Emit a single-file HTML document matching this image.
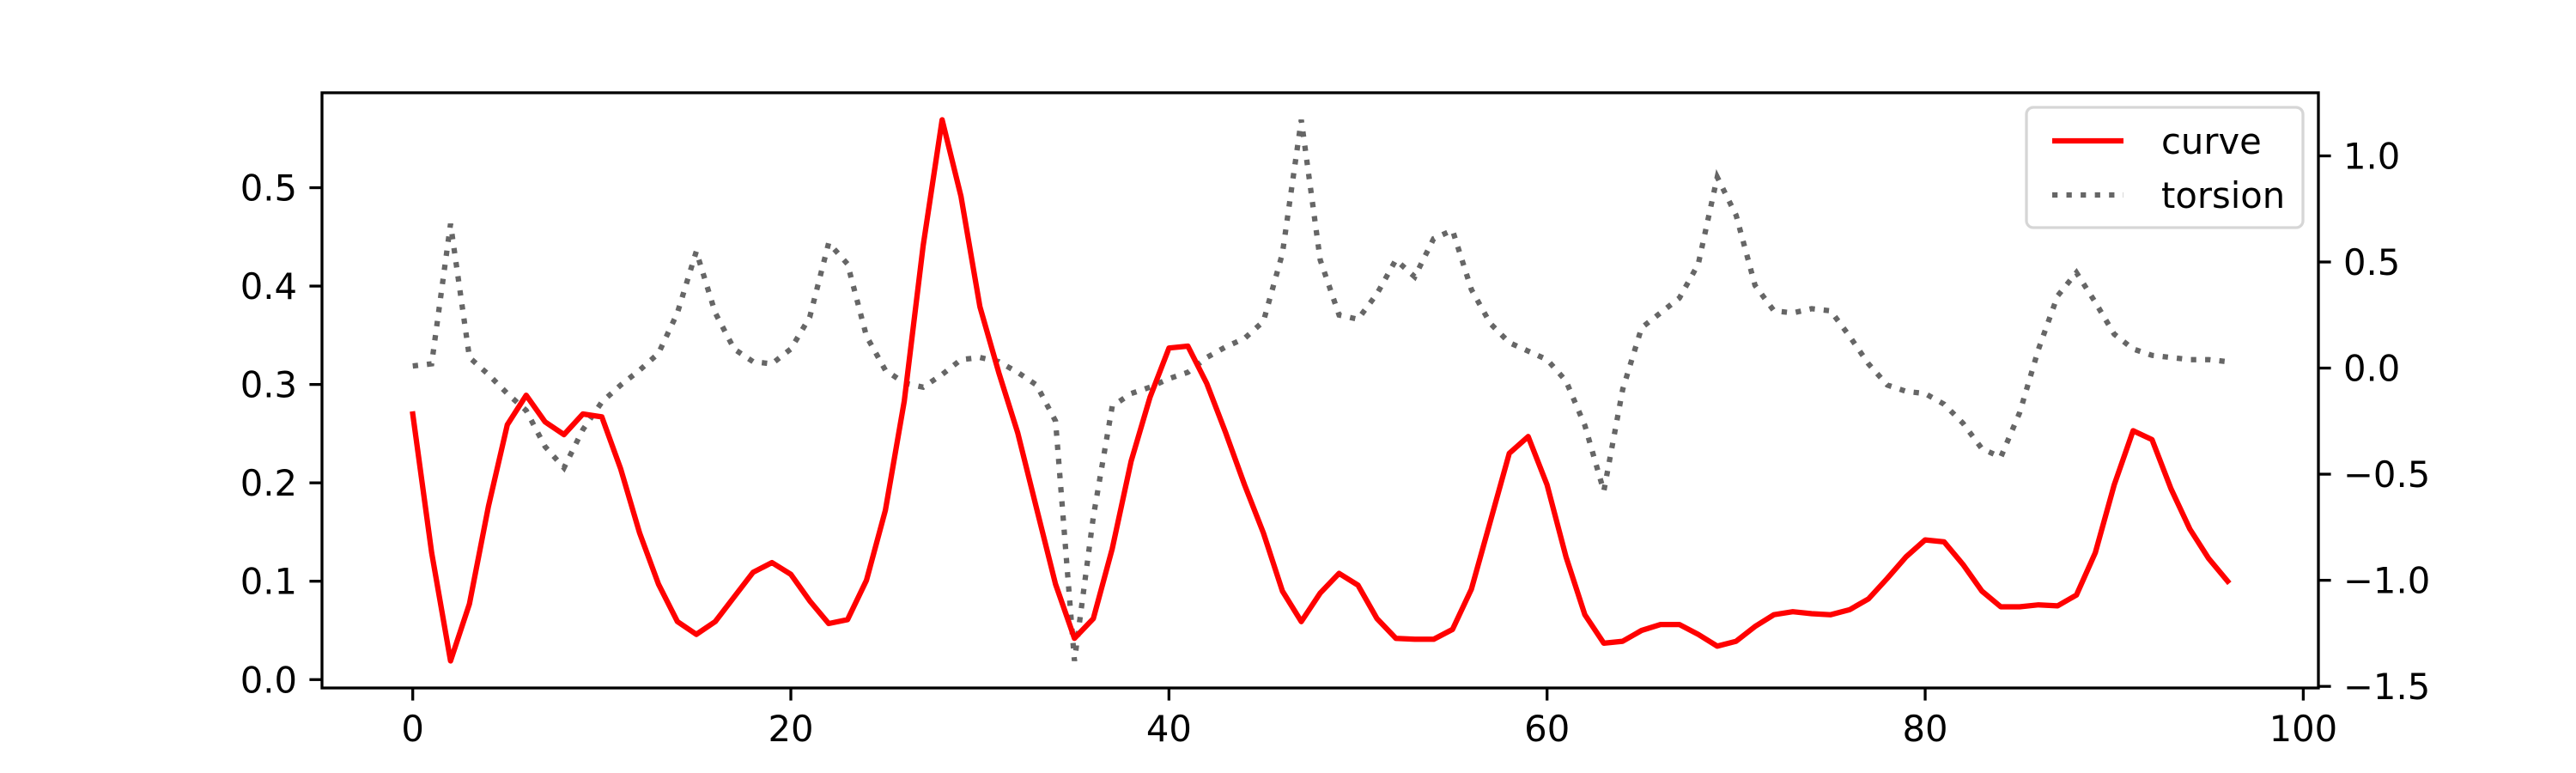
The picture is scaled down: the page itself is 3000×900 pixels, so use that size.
<!DOCTYPE html>
<html><head><meta charset="utf-8"><style>
html,body{margin:0;padding:0;background:#fff;}
svg{display:block;font-family:"DejaVu Sans","Liberation Sans",sans-serif;}
</style></head><body>
<svg id="chart" width="3000" height="900" viewBox="0 0 3000 900" xmlns="http://www.w3.org/2000/svg">
<rect width="3000" height="900" fill="#fff"/>
<g id="marks"></g>
<g id="axes"></g>
</svg>
<script>
const curveValues = [0.270,0.129,0.019,0.077,0.176,0.259,0.289,0.262,0.249,0.270,0.267,0.214,0.149,0.097,0.059,0.046,0.059,0.084,0.109,0.119,0.107,0.080,0.057,0.061,0.101,0.172,0.283,0.441,0.569,0.491,0.379,0.312,0.251,0.174,0.097,0.042,0.062,0.133,0.222,0.287,0.337,0.339,0.301,0.251,0.198,0.149,0.090,0.059,0.088,0.108,0.096,0.062,0.042,0.041,0.041,0.051,0.092,0.161,0.230,0.247,0.198,0.125,0.066,0.037,0.039,0.050,0.056,0.056,0.046,0.034,0.039,0.054,0.066,0.069,0.067,0.066,0.071,0.082,0.103,0.125,0.142,0.140,0.117,0.090,0.074,0.074,0.076,0.075,0.086,0.129,0.198,0.253,0.244,0.194,0.153,0.123,0.100];
const torsionValues = [0.01,0.02,0.68,0.05,-0.03,-0.12,-0.20,-0.37,-0.47,-0.29,-0.16,-0.08,-0.01,0.07,0.26,0.55,0.26,0.09,0.03,0.02,0.09,0.24,0.59,0.49,0.15,-0.01,-0.07,-0.09,-0.03,0.04,0.05,0.03,-0.02,-0.08,-0.25,-1.38,-0.70,-0.18,-0.12,-0.09,-0.05,-0.02,0.05,0.10,0.14,0.22,0.54,1.17,0.51,0.25,0.23,0.35,0.51,0.43,0.61,0.65,0.37,0.21,0.12,0.08,0.04,-0.06,-0.27,-0.58,-0.10,0.19,0.26,0.33,0.49,0.90,0.72,0.39,0.27,0.26,0.28,0.27,0.15,0.02,-0.08,-0.11,-0.12,-0.17,-0.26,-0.38,-0.42,-0.21,0.09,0.34,0.45,0.31,0.16,0.09,0.06,0.05,0.04,0.04,0.03];
const xTicks = [0,20,40,60,80,100];
const leftTicks = [0.0,0.1,0.2,0.3,0.4,0.5];
const rightTicks = [-1.5,-1.0,-0.5,0.0,0.5,1.0];
const legendLabels = ["curve","torsion"];

const L=375,R=2700,T=108,B=801;
const n=curveValues.length;
const xMin=-0.05*(n-1), xMax=(n-1)*1.05;
function sx(v){return L+(v-xMin)/(xMax-xMin)*(R-L);}
const cMin=Math.min(...curveValues), cMax=Math.max(...curveValues), cPad=(cMax-cMin)*0.05;
function syL(v){return B-(v-(cMin-cPad))/((cMax-cMin)+2*cPad)*(B-T);}
const tMin=Math.min(...torsionValues), tMax=Math.max(...torsionValues), tPad=(tMax-tMin)*0.05;
function syR(v){return B-(v-(tMin-tPad))/((tMax-tMin)+2*tPad)*(B-T);}

const NS="http://www.w3.org/2000/svg";
function mk(tag,attrs,parent){const e=document.createElementNS(NS,tag);for(const k in attrs)e.setAttribute(k,attrs[k]);parent.appendChild(e);return e;}
const marks=document.getElementById('marks'), axes=document.getElementById('axes');

const tPts=torsionValues.map((v,i)=>sx(i).toFixed(1)+','+syR(v).toFixed(1)).join(' ');
const tl=mk('polyline',{points:tPts,fill:'none',stroke:'#666','stroke-width':6.25,'stroke-dasharray':'6.25 10.3'},marks);


const cPts=curveValues.map((v,i)=>sx(i).toFixed(1)+','+syL(v).toFixed(1)).join(' ');
const cl=mk('polyline',{points:cPts,fill:'none',stroke:'#ff0000','stroke-width':6.25,'stroke-linejoin':'round','stroke-linecap':'square'},marks);



const frame=mk('rect',{x:L,y:T,width:R-L,height:B-T,fill:'none',stroke:'#000','stroke-width':3.3},axes);



xTicks.forEach(v=>{const x=sx(v);
 mk('line',{x1:x,y1:B,x2:x,y2:B+14.6,stroke:'#000','stroke-width':3.3},axes);
 const t=mk('text',{x:x,y:B+62,'text-anchor':'middle','font-size':41.7,fill:'#000'},axes);
 t.textContent=String(v);
 
 
});
leftTicks.forEach(v=>{const y=syL(v);
 mk('line',{x1:L,y1:y,x2:L-14.6,y2:y,stroke:'#000','stroke-width':3.3},axes);
 const t=mk('text',{x:L-29,y:y+15,'text-anchor':'end','font-size':41.7,fill:'#000'},axes);
 t.textContent=v.toFixed(1);
 
 
});
rightTicks.forEach(v=>{const y=syR(v);
 mk('line',{x1:R,y1:y,x2:R+14.6,y2:y,stroke:'#000','stroke-width':3.3},axes);
 const t=mk('text',{x:R+29,y:y+15,'text-anchor':'start','font-size':41.7,fill:'#000'},axes);
 t.textContent=(v<0?'\u2212':'')+Math.abs(v).toFixed(1);
 
 
});

const lg=mk('g',{},axes);


mk('rect',{x:2360,y:125,width:322,height:140,rx:8,fill:'#fff','fill-opacity':0.8,stroke:'#d6d6d6','stroke-width':3.3},lg);
const styles=[{stroke:'#ff0000',dash:'none'},{stroke:'#666',dash:'6.25 10.3'}];
legendLabels.forEach((lab,k)=>{const y=164+k*63;
 const ln=mk('line',{x1:2390,y1:y,x2:2473,y2:y,stroke:styles[k].stroke,'stroke-width':6.25,'stroke-dasharray':styles[k].dash},lg);
 
 
 const t=mk('text',{x:2517,y:y+15,'font-size':41.7,fill:'#000'},lg);
 t.textContent=lab;
 
 
});
</script>
</body></html>
